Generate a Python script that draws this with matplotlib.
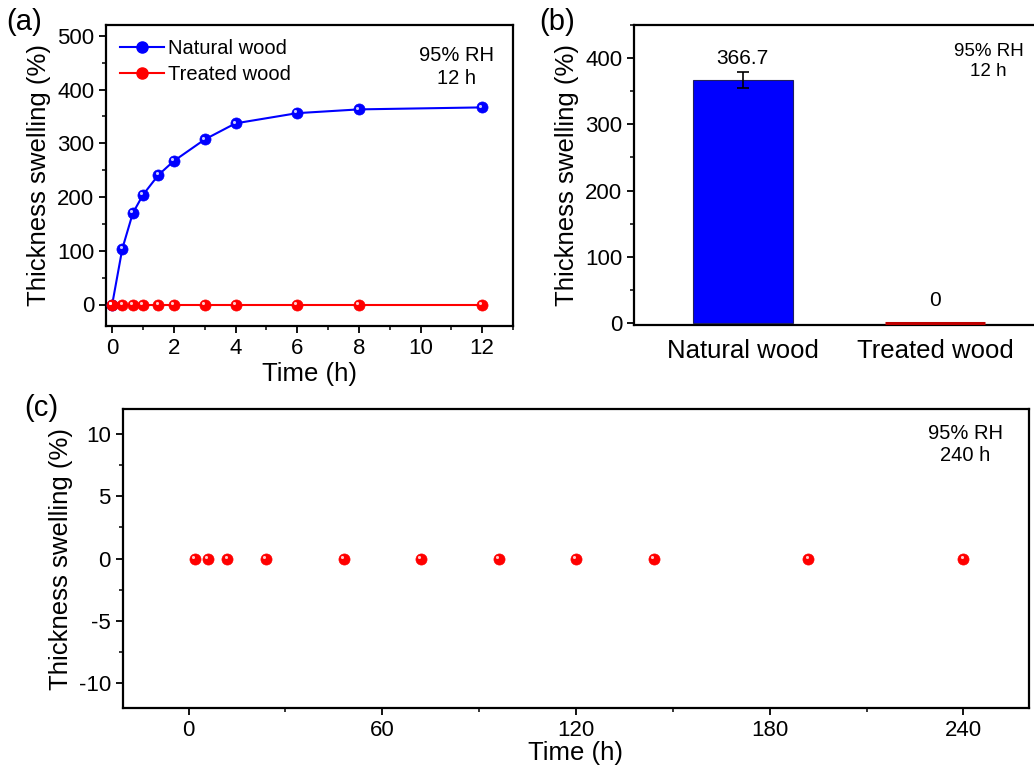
import numpy as np
import matplotlib
matplotlib.use("Agg")
import matplotlib.pyplot as plt
from matplotlib.ticker import MultipleLocator
from matplotlib.transforms import offset_copy

plt.rcParams['font.family'] = ['Liberation Sans', 'DejaVu Sans']
plt.rcParams['axes.unicode_minus'] = False

# panel (a): swelling over 12 h
time_a = [0, 0.33, 0.67, 1, 1.5, 2, 3, 4, 6, 8, 12]
natural_a = [0, 104, 170, 204, 241, 267, 307, 337, 356, 363, 366.7]
treated_a = [0, 0, 0, 0, 0, 0, 0, 0, 0, 0, 0]

# panel (b): swelling after 12 h
categories_b = ["Natural wood", "Treated wood"]
values_b = [366.7, 0]
errors_b = [12.5, 0]
labels_b = ["366.7", "0"]

# panel (c): treated wood over 240 h
time_c = [2, 6, 12, 24, 48, 72, 96, 120, 144, 192, 240]
treated_c = [0, 0, 0, 0, 0, 0, 0, 0, 0, 0, 0]

W, H = 1034, 770
BLUE = '#0000ff'
RED = '#ff0000'


def px_axes(fig, left, top, right, bottom):
    return fig.add_axes([left / W, 1 - bottom / H, (right - left) / W, (bottom - top) / H])


def sphere(ax, fig, x, y, color, ms, **kw):
    line, = ax.plot(x, y, 'o', color=color, markersize=ms, markeredgecolor=color,
                    markeredgewidth=0.5, zorder=3, **kw)
    hl = offset_copy(ax.transData, fig=fig, x=-1.3, y=1.3, units='points')
    ax.plot(x, y, 'o', color='white', markersize=ms * 0.28, markeredgewidth=0,
            alpha=0.8, transform=hl, zorder=4)
    return line


def style_axes(ax):
    for s in ax.spines.values():
        s.set_linewidth(1.6)
    ax.tick_params(which='major', direction='out', length=5, width=1.3, labelsize=16)
    ax.tick_params(which='minor', direction='out', length=3, width=1.1)


def main():
    fig = plt.figure(figsize=(W / 100, H / 100), dpi=100)

    # (a)
    ax = px_axes(fig, 106, 25, 513, 326)
    ax.plot(time_a, natural_a, '-', color=BLUE, linewidth=1.5, zorder=2)
    ax.plot(time_a, treated_a, '-', color=RED, linewidth=1.5, zorder=2)
    sphere(ax, fig, time_a, natural_a, BLUE, 8)
    sphere(ax, fig, time_a, treated_a, RED, 8)
    ax.set_xlim(-0.2, 13)
    ax.set_ylim(-40, 520)
    ax.xaxis.set_major_locator(MultipleLocator(2))
    ax.xaxis.set_minor_locator(MultipleLocator(1))
    ax.yaxis.set_major_locator(MultipleLocator(100))
    ax.yaxis.set_minor_locator(MultipleLocator(50))
    style_axes(ax)
    ax.set_xlabel("Time (h)", fontsize=18.5, labelpad=2)
    ax.set_ylabel("Thickness swelling (%)", fontsize=18.5, labelpad=4)
    h1, = ax.plot([], [], '-o', color=BLUE, markersize=8, linewidth=1.5)
    h2, = ax.plot([], [], '-o', color=RED, markersize=8, linewidth=1.5)
    ax.legend([h1, h2], ["Natural wood", "Treated wood"], loc='upper left',
              frameon=False, fontsize=14.5, handlelength=2.2, handletextpad=0.2,
              borderaxespad=0.3, labelspacing=0.35)
    ax.text(0.86, 0.93, "95% RH\n12 h", transform=ax.transAxes, ha='center',
            va='top', fontsize=14.5, linespacing=1.25)

    # (b)
    bx = px_axes(fig, 634, 25, 1044, 325)
    xpos = np.arange(len(categories_b))
    bx.bar(xpos, values_b, width=0.52, color=[BLUE, '#c00000'],
           edgecolor=['#202060', '#c00000'], linewidth=[0.8, 2.2], zorder=3)
    bx.errorbar(xpos[:1], values_b[:1], yerr=errors_b[:1], fmt='none',
                ecolor='black', elinewidth=1.2, capsize=4, capthick=1.2, zorder=4)
    for xp, v, lab in zip(xpos, values_b, labels_b):
        bx.text(xp, v + 19, lab, ha='center', va='bottom', fontsize=15)
    bx.set_xlim(-0.566, 1.566)
    bx.set_ylim(-3, 450)
    bx.set_xticks(xpos)
    bx.set_xticklabels(categories_b, fontsize=18.5)
    bx.yaxis.set_major_locator(MultipleLocator(100))
    bx.yaxis.set_minor_locator(MultipleLocator(50))
    style_axes(bx)
    bx.spines['right'].set_visible(False)
    bx.tick_params(axis='x', length=0, pad=10, labelsize=18.5)
    bx.set_ylabel("Thickness swelling (%)", fontsize=18.5, labelpad=4)
    bx.text(0.865, 0.94, "95% RH\n12 h", transform=bx.transAxes, ha='center',
            va='top', fontsize=13.5, linespacing=1.2)

    # (c)
    cx = px_axes(fig, 122.7, 409, 1029, 708.3)
    sphere(cx, fig, time_c, treated_c, RED, 8)
    cx.set_xlim(-20.4, 260.3)
    cx.set_ylim(-12, 12)
    cx.xaxis.set_major_locator(MultipleLocator(60))
    cx.xaxis.set_minor_locator(MultipleLocator(30))
    cx.yaxis.set_major_locator(MultipleLocator(5))
    cx.yaxis.set_minor_locator(MultipleLocator(2.5))
    style_axes(cx)
    cx.set_xlabel("Time (h)", fontsize=18.5, labelpad=0)
    cx.set_ylabel("Thickness swelling (%)", fontsize=18.5, labelpad=4)
    cx.text(0.93, 0.95, "95% RH\n240 h", transform=cx.transAxes, ha='center',
            va='top', fontsize=14.5, linespacing=1.2)

    fig.text(24 / W, 1 - 22 / H, "(a)", ha='center', va='center', fontsize=21)
    fig.text(557 / W, 1 - 22 / H, "(b)", ha='center', va='center', fontsize=21)
    fig.text(41 / W, 1 - 408 / H, "(c)", ha='center', va='center', fontsize=21)

    fig.savefig("out.png", dpi=100)


if __name__ == "__main__":
    main()
